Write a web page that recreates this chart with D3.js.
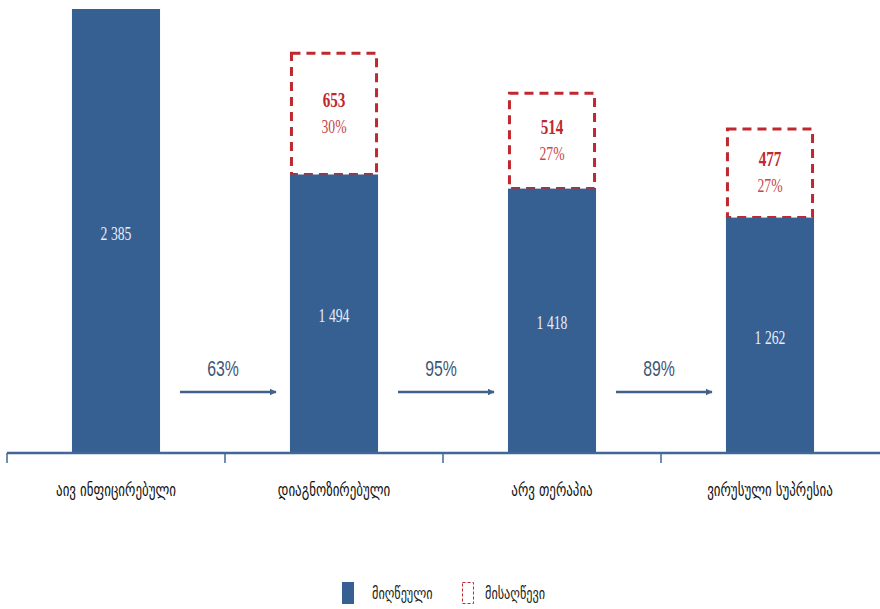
<!DOCTYPE html>
<html>
<head>
<meta charset="utf-8">
<script src="https://cdn.jsdelivr.net/npm/d3@7"></script>
<style>
  html, body { margin: 0; padding: 0; background: #fff; }
  svg { display: block; }
</style>
</head>
<body>
<svg id="chart" width="880" height="609"></svg>
<script>
// ---- data ----
const categories = ["აივ ინფიცირებული", "დიაგნოზირებული", "არვ თერაპია", "ვირუსული სუპრესია"];
const achieved = [2385, 1494, 1418, 1262];
const remaining = [null, 653, 514, 477];
const remainingPct = [null, "30%", "27%", "27%"];
const conversion = ["63%", "95%", "89%"];
const legendLabels = ["მიღწეული", "მისაღწევი"];

// ---- styles ----
const BLUE = "#365f92";
const RED = "#c0282f";
const RED_LIGHT = "#c4464b";
const AXIS = "#41679a";
const ARROW = "#41618a";
const LABEL_DARK = "#3e5676";
const GEO_FONT = "'DejaVu Sans', sans-serif";
const NUM_FONT = "'Liberation Serif', serif";
const PCT_FONT = "'Liberation Sans', sans-serif";

const svg = d3.select("#chart");
const baseY = 452;

const x = d3.scaleBand()
  .domain(categories)
  .range([7, 879])
  .paddingInner(0.596)
  .paddingOuter(0.298);

const y = d3.scaleLinear()
  .domain([0, d3.max(achieved)])
  .range([baseY, 9]);

const step = x.step();
const boundaries = categories.map((c, i) => x(c) - x.paddingOuter() * step).concat([x(categories[3]) + x.bandwidth() + x.paddingOuter() * step]);

// defs: arrowhead
svg.append("defs").append("marker")
  .attr("id", "arrowhead")
  .attr("viewBox", "0 0 10 10")
  .attr("refX", 9).attr("refY", 5)
  .attr("markerWidth", 2.8).attr("markerHeight", 3.8)
  .attr("markerUnits", "strokeWidth")
  .attr("orient", "auto")
  .append("path")
  .attr("d", "M0,0 L10,5 L0,10 Z")
  .attr("fill", ARROW);

const data = categories.map((c, i) => ({ c, v: achieved[i], r: remaining[i], p: remainingPct[i] }));

// remaining (dashed) boxes
const boxW = x.bandwidth() - 3;
data.filter(d => d.r != null).forEach(d => {
  const top = y(d.v + d.r);
  const bot = y(d.v);
  svg.append("rect")
    .attr("x", x(d.c) + 1.5)
    .attr("y", top)
    .attr("width", boxW)
    .attr("height", bot - top)
    .attr("fill", "none")
    .attr("stroke", RED)
    .attr("stroke-width", 3)
    .attr("stroke-dasharray", "9,6");
  const mid = (top + bot) / 2;
  const cx = x(d.c) + x.bandwidth() / 2;
  svg.append("text")
    .attr("transform", `translate(${cx},${mid - 7}) scale(0.72,1)`)
    .attr("text-anchor", "middle")
    .attr("font-family", NUM_FONT)
    .attr("font-weight", "bold")
    .attr("font-size", 21)
    .attr("fill", RED)
    .text(d.r);
  svg.append("text")
    .attr("transform", `translate(${cx},${mid + 19}) scale(0.72,1)`)
    .attr("text-anchor", "middle")
    .attr("font-family", NUM_FONT)
    .attr("font-size", 19)
    .attr("fill", RED_LIGHT)
    .text(d.p);
});

// achieved bars
svg.selectAll("rect.bar")
  .data(data)
  .enter().append("rect")
  .attr("class", "bar")
  .attr("x", d => x(d.c))
  .attr("y", d => y(d.v))
  .attr("width", x.bandwidth())
  .attr("height", d => y(0) - y(d.v))
  .attr("fill", BLUE);

const fmt = v => d3.format(",")(v).replace(/,/g, " ");
svg.selectAll("text.val")
  .data(data)
  .enter().append("text")
  .attr("class", "val")
  .attr("transform", d => `translate(${x(d.c) + x.bandwidth() / 2},${(y(d.v) + y(0)) / 2 + 9}) scale(0.72,1)`)
  .attr("text-anchor", "middle")
  .attr("font-family", NUM_FONT)
  .attr("font-size", 19)
  .attr("fill", "#e8eef7")
  .text(d => fmt(d.v));

// axis
svg.append("line")
  .attr("x1", boundaries[0]).attr("x2", 880)
  .attr("y1", baseY + 1).attr("y2", baseY + 1)
  .attr("stroke", AXIS).attr("stroke-width", 2.5);
svg.selectAll("line.tick")
  .data(boundaries.slice(0, 4))
  .enter().append("line")
  .attr("class", "tick")
  .attr("x1", d => d).attr("x2", d => d)
  .attr("y1", baseY + 1).attr("y2", baseY + 11)
  .attr("stroke", AXIS).attr("stroke-width", 1.5);

svg.selectAll("text.cat")
  .data(categories)
  .enter().append("text")
  .attr("class", "cat")
  .attr("transform", d => `translate(${x(d) + x.bandwidth() / 2},${496}) scale(0.72,1)`)
  .attr("text-anchor", "middle")
  .attr("font-family", GEO_FONT)
  .attr("font-size", 18)
  .attr("fill", "#111")
  .text(d => d);

// conversion arrows
conversion.forEach((p, i) => {
  const bx = boundaries[i + 1];
  svg.append("line")
    .attr("x1", bx - 45).attr("x2", bx + 51)
    .attr("y1", 392).attr("y2", 392)
    .attr("stroke", ARROW).attr("stroke-width", 2.5)
    .attr("marker-end", "url(#arrowhead)");
  svg.append("text")
    .attr("transform", `translate(${bx - 2},${376}) scale(0.72,1)`)
    .attr("text-anchor", "middle")
    .attr("font-family", PCT_FONT)
    .attr("font-size", 22)
    .attr("fill", LABEL_DARK)
    .text(p);
});

// legend
const lg = svg.append("g");
lg.append("rect").attr("x", 342).attr("y", 582).attr("width", 12).attr("height", 22).attr("fill", BLUE);
lg.append("text")
  .attr("transform", `translate(372,599) scale(0.72,1)`)
  .attr("font-family", GEO_FONT).attr("font-size", 17).attr("fill", "#222")
  .text(legendLabels[0]);
lg.append("rect").attr("x", 462.5).attr("y", 582.5).attr("width", 11).attr("height", 21)
  .attr("fill", "none").attr("stroke", RED).attr("stroke-width", 1).attr("stroke-dasharray", "3,2");
lg.append("text")
  .attr("transform", `translate(485,599) scale(0.72,1)`)
  .attr("font-family", GEO_FONT).attr("font-size", 17).attr("fill", "#222")
  .text(legendLabels[1]);
</script>
</body>
</html>
